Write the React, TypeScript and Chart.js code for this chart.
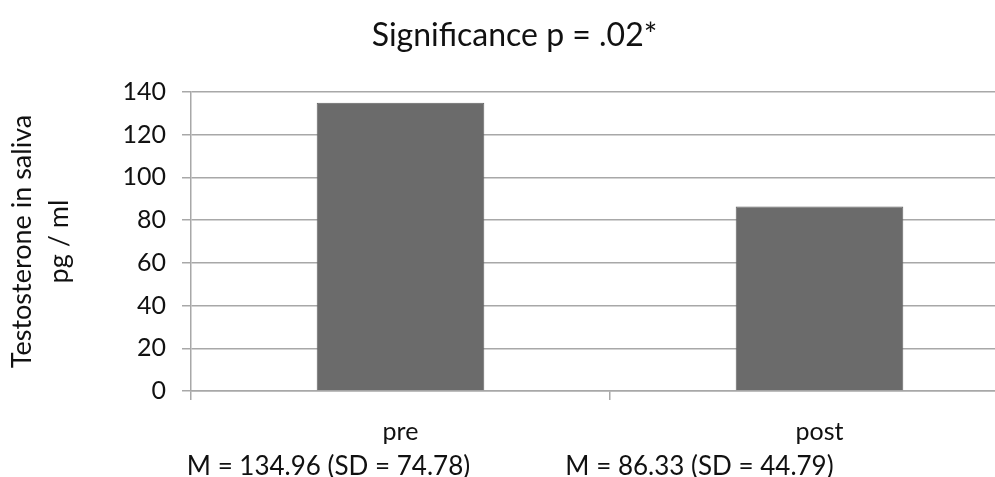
import React, { useEffect, useRef } from "react";
import { Chart, registerables } from "chart.js";

Chart.register(...registerables);

const categories = ["pre", "post"];
const values = [134.96, 86.33];
const statLabels = ["M = 134.96 (SD = 74.78)", "M = 86.33 (SD = 44.79)"];
const yTicks = [0, 20, 40, 60, 80, 100, 120, 140];
const titleText = "Significance p = .02*";
const yTitle = ["Testosterone in saliva", "pg / ml"];

const FONT = "Lato, 'Open Sans', sans-serif";
const TEXT = "#111111";
const GRID = "#a8a8a8";

export default function App() {
  const ref = useRef<HTMLCanvasElement | null>(null);
  useEffect(() => {
    if (!ref.current) return;
    const statShift = [-72, -120];
    const statsPlugin = {
      id: "stats",
      afterDraw(chart: any) {
        const ctx = chart.ctx;
        const xs = chart.scales.x;
        ctx.save();
        ctx.font = `26px ${FONT}`;
        ctx.fillStyle = TEXT;
        ctx.textAlign = "center";
        ctx.textBaseline = "middle";
        statLabels.forEach((s, i) => {
          const x = xs.getPixelForTick(i) + statShift[i];
          const y = xs.top + 9 + 15 + 34 * 1.5 + 1;
          ctx.fillText(s, x, y);
        });
        ctx.restore();
      },
    };
    const chart = new Chart(ref.current, {
      type: "bar",
      data: {
        labels: categories,
        datasets: [
          {
            data: values,
            backgroundColor: "#6b6b6b",
            borderColor: "#626262",
            borderWidth: 1,
            categoryPercentage: 1,
            barPercentage: 0.4,
          },
        ],
      },
      options: {
        responsive: false,
        animation: false,
        layout: { padding: { left: 0, right: 11, top: 0, bottom: 0 } },
        plugins: {
          legend: { display: false },
          tooltip: { enabled: false },
          title: {
            display: true,
            text: titleText,
            color: TEXT,
            font: { family: FONT, size: 32, weight: "normal", lineHeight: 1.2 },
            padding: { top: 16, bottom: 37.6 },
          },
        },
        scales: {
          x: {
            offset: true,
            grid: {
              offset: true,
              drawOnChartArea: false,
              drawTicks: true,
              tickLength: 9,
              color: GRID,
              lineWidth: 1.5,
            },
            border: { color: GRID, width: 1.5 },
            ticks: {
              color: TEXT,
              padding: 15,
              font: { family: FONT, size: 25, lineHeight: 34 / 25 },
              maxRotation: 0,
              callback: (_v: any, i: number) => [categories[i], ""],
            },
            afterFit: (s: any) => {
              s.height = 477 - 391;
            },
          },
          y: {
            min: 0,
            max: 140,
            afterBuildTicks: (s: any) => {
              s.ticks = yTicks.map((v) => ({ value: v }));
            },
            grid: {
              color: GRID,
              lineWidth: 1.5,
              drawTicks: true,
              tickLength: 9,
            },
            border: { color: GRID, width: 1.5 },
            ticks: {
              color: TEXT,
              padding: 16,
              font: { family: FONT, size: 25 },
            },
            title: {
              display: true,
              text: yTitle,
              color: TEXT,
              font: { family: FONT, size: 27, lineHeight: 37 / 27 },
              padding: { top: 3.5, bottom: 0 },
            },
            afterFit: (s: any) => {
              s.width = 191;
            },
          },
        },
      },
      plugins: [statsPlugin],
    });
    return () => chart.destroy();
  }, []);
  return (
    <div
      style={{
        position: "fixed",
        left: 0,
        top: 0,
        width: 995,
        height: 477,
        overflow: "hidden",
        background: "#fff",
      }}
    >
      <canvas ref={ref} width={1040} height={477} style={{ width: 1040, height: 477, display: "block" }} />
    </div>
  );
}
